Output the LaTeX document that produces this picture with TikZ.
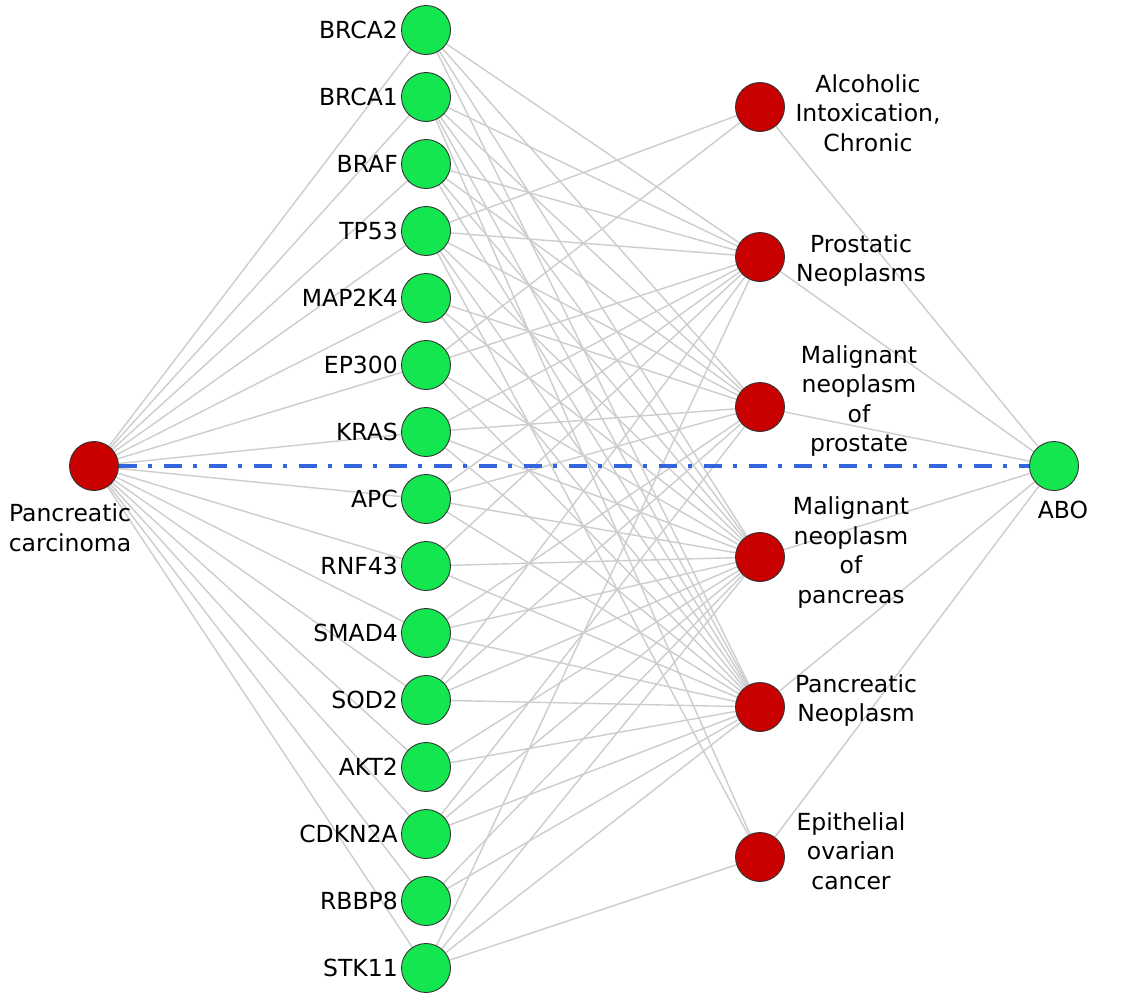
\documentclass[tikz,border=0pt]{standalone}
\usepackage{fontspec}
\setmainfont{DejaVu Sans}
\pgfdeclarelayer{bg}
\pgfsetlayers{bg,main}
\definecolor{gnode}{RGB}{20,230,80}
\definecolor{rnode}{RGB}{200,0,0}
\definecolor{edgec}{RGB}{205,205,205}
\definecolor{bluec}{RGB}{51,102,221}
\tikzset{
  gene/.style={circle,draw=black!80,line width=0.9pt,fill=gnode,minimum size=49pt,inner sep=0pt},
  dis/.style={circle,draw=black!80,line width=0.9pt,fill=rnode,minimum size=49pt,inner sep=0pt},
  lbl/.style={font=\fontsize{23.5}{29.5}\selectfont,inner sep=0pt,align=center},
  glbl/.style={font=\fontsize{23.5}{29.5}\selectfont,inner sep=0pt,anchor=east},
  edge/.style={draw=edgec,line width=1.4pt},
  hl/.style={draw=bluec,line width=4.5pt,dash pattern=on 18pt off 11pt on 4.5pt off 11.5pt}
}
\begin{document}
\begin{tikzpicture}[x=1pt,y=-1pt]
\useasboundingbox (0,0) rectangle (1122,999);
% genes
\foreach \n/\t [count=\i from 0] in {g0/BRCA2,g1/BRCA1,g2/BRAF,g3/TP53,g4/MAP2K4,g5/EP300,g6/KRAS,g7/APC,g8/RNF43,g9/SMAD4,g10/SOD2,g11/AKT2,g12/CDKN2A,g13/RBBP8,g14/STK11}{
  \node[gene] (\n) at (426,{30+67*\i}) {};
  \node[glbl] (\n l) at (398,{30+67*\i}) {\t};
}
% diseases
\node[dis] (d1) at (760,107) {};
\node[dis] (d2) at (760,257) {};
\node[dis] (d3) at (760,407) {};
\node[dis] (d4) at (760,557) {};
\node[dis] (d5) at (760,707) {};
\node[dis] (d6) at (760,857) {};
\node[gene] (abo) at (1054,466) {};
\node[dis] (pc) at (94,466) {};
% labels
\node[lbl] (d1l) at (868,113) {Alcoholic\\Intoxication,\\Chronic};
\node[lbl] (d2l) at (861,260.5) {Prostatic\\Neoplasms};
\node[lbl] (d3l) at (859,401) {Malignant\\neoplasm\\of\\prostate};
\node[lbl] (d4l) at (851,552.5) {Malignant\\neoplasm\\of\\pancreas};
\node[lbl] (d5l) at (856,700.5) {Pancreatic\\Neoplasm};
\node[lbl] (d6l) at (851,851) {Epithelial\\ovarian\\cancer};
\node[lbl] (pcl) at (70,527.5) {Pancreatic\\carcinoma};
\node[lbl] (abol) at (1063,510) {ABO};
% edges
\begin{pgfonlayer}{bg}
\fill[white] (0,0) rectangle (1122,999);
\foreach \i in {0,...,14}{ \draw[edge] (pc) -- (g\i); }
\foreach \i in {1,...,6}{ \draw[edge] (abo) -- (d\i); }
\foreach \i in {3,5}{ \draw[edge] (g\i) -- (d1); }
\foreach \i in {0,1,2,3,5,6,7,8,10,14}{ \draw[edge] (g\i) -- (d2); }
\foreach \i in {0,1,2,3,4,6,7,9,10,12}{ \draw[edge] (g\i) -- (d3); }
\foreach \i in {0,...,14}{ \draw[edge] (g\i) -- (d4); }
\foreach \i in {0,...,14}{ \draw[edge] (g\i) -- (d5); }
\foreach \i in {1,3,14}{ \draw[edge] (g\i) -- (d6); }
\end{pgfonlayer}
\draw[hl] (pc) -- (abo);
\end{tikzpicture}
\end{document}
